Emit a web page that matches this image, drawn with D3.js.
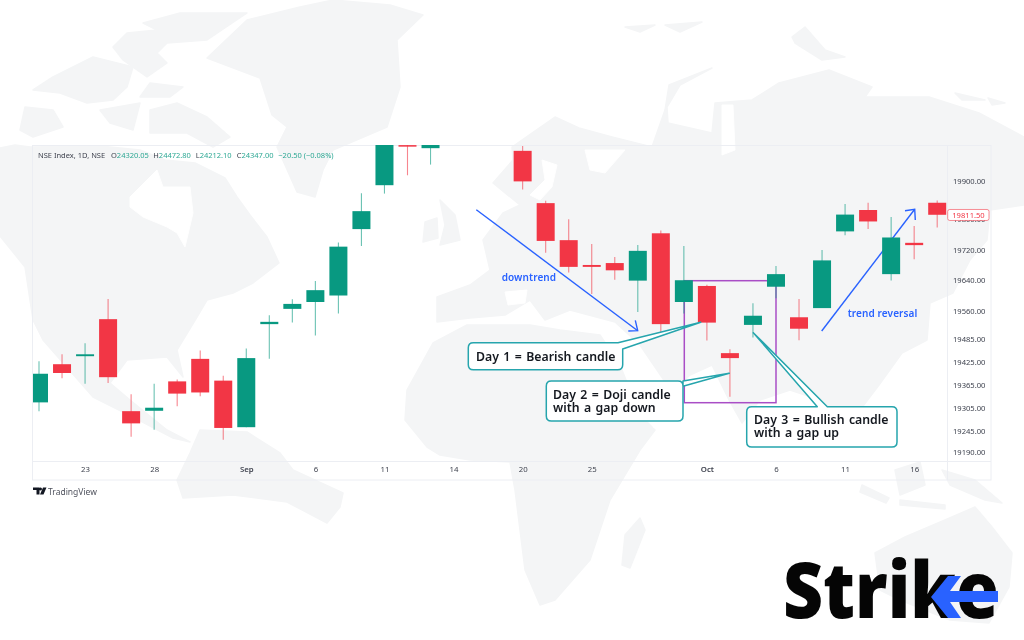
<!DOCTYPE html>
<html>
<head>
<meta charset="utf-8">
<script src="https://cdn.jsdelivr.net/npm/d3@7/dist/d3.min.js"></script>
<style>
html,body{margin:0;padding:0;background:#fff}
svg{display:block;filter:blur(.3px)}
text{font-family:"Noto Sans",sans-serif}
</style>
</head>
<body>
<svg id="c" width="1024" height="640"></svg>
<script>
// ---------- chart data (NSE Index, daily, 2023) ----------
const dates = ["08-21","08-22","08-23","08-24","08-25","08-28","08-29","08-30","08-31","09-01","09-04","09-05","09-06","09-07","09-08","09-11","09-12","09-13","09-14","09-15","09-18","09-20","09-21","09-22","09-25","09-26","09-27","09-28","09-29","10-03","10-04","10-05","10-06","10-09","10-10","10-11","10-12","10-13","10-16","10-17"];
const opens  = [19320,19420,19441,19538,19297,19298,19375,19434,19377,19255,19525,19565,19583,19600,19774,19889,19994,19986,null,null,null,19979,19842,19745,19680,19685,19639,19763,19583,19625,19449,19523,19623,19543,19567,19768,19824,19656,19738,19843];
const highs  = [19428,19446,19475,19591,19341,19369,19380,19456,19390,19461,19548,19590,19638,19739,19868,20010,20000,20010,null,null,null,19992,19848,19800,19735,19701,19732,19770,19730,19628,19459,19580,19677,19591,19719,19840,19843,19806,19782,19849];
const lows   = [19297,19383,19369,19371,19230,19248,19310,19336,19222,19255,19434,19529,19495,19553,19730,19867,19915,19943,null,null,null,19878,19712,19660,19604,19641,19557,19496,19553,19482,19335,19490,19593,19483,19567,19758,19774,19639,19695,19778];
const closes = [19395,19397,19446,19386,19265,19306,19343,19346,19253,19436,19531,19578,19614,19728,19821,20005,19990,19998,null,null,null,19899,19743,19675,19675,19666,19717,19525,19640,19529,19436,19547,19656,19513,19692,19812,19794,19752,19732,19811.5];
const priceTicks = [19900,19800,19720,19640,19560,19485,19425,19365,19305,19245,19190];
const dateTicks = ["08-23","08-28","09-01","09-06","09-11","09-14","09-20","09-25","10-03","10-06","10-11","10-16"];
const dateTickLabels = ["23","28","Sep","6","11","14","20","25","Oct","6","11","16"];
const lastPrice = 19811.5;
const legendValues = ["24320.05","24472.80","24212.10","24347.00"];
const legendKeys = ["O","H","L","C"];

const UP="#089981", DOWN="#f23645", BLUE="#2962ff", TEAL="#26a5ad", PURPLE="#a94ec6", LAND="#f4f5f6", GRID="#eceef3", INK="#3f434f";
const svg=d3.select("#c");
svg.append("rect").attr("width",1024).attr("height",640).attr("fill","#fff");

// ---------- background world map (decorative) ----------
const land=[
 // north america
 [[0,148],[15,145],[30,147],[100,146],[140,150],[165,160],[195,163],[225,178],[237,197],[250,215],[267,237],[279,263],[253,283],[233,293],[207,300],[197,317],[177,350],[183,377],[167,357],[127,360],[110,383],[130,400],[167,430],[190,442],[173,438],[133,417],[93,397],[43,340],[33,320],[25,267],[0,236]],
 // south america
 [[200,430],[247,432],[280,453],[293,470],[343,493],[340,507],[327,523],[287,502],[233,495],[183,498],[177,480],[190,453]],
 // greenland
 [[333,0],[390,5],[423,15],[397,40],[400,87],[387,127],[333,150],[323,170],[315,197],[297,192],[277,147],[287,127],[272,115],[260,78],[207,58],[247,20],[300,7]],
 // arctic islands
 [[127,33],[157,30],[143,23],[180,13],[247,13],[207,40],[167,43],[157,53],[167,63],[147,77],[123,60],[113,47]],
 [[33,90],[53,77],[93,57],[133,67],[127,87],[113,100],[87,103],[60,93]],
 [[150,83],[183,87],[170,97],[140,97]],
 [[25,107],[53,110],[63,127],[33,137],[20,130]],
 [[100,110],[140,103],[133,130],[110,123]],
 [[150,110],[177,103],[207,117],[230,137],[213,147],[187,133],[150,133]],
 // eurasia
 [[512,147],[532,133],[555,117],[579,128],[612,137],[652,147],[665,110],[669,85],[712,68],[680,85],[667,107],[668,123],[712,133],[715,103],[752,100],[779,83],[829,70],[872,87],[865,97],[929,97],[979,113],[1024,137],[1024,205],[990,210],[987,240],[970,260],[953,293],[930,303],[927,340],[902,353],[879,385],[860,410],[832,443],[820,400],[790,390],[760,400],[742,423],[729,400],[712,365],[690,375],[672,392],[640,345],[615,322],[570,310],[545,320],[530,300],[505,315],[470,318],[437,322],[437,297],[470,285],[490,270],[483,240],[503,213],[520,205],[493,183],[513,160]],
 // africa
 [[407,390],[405,420],[427,447],[440,455],[470,460],[510,462],[515,490],[520,530],[525,570],[540,605],[555,600],[590,560],[610,500],[640,450],[655,430],[640,415],[620,365],[600,335],[560,330],[530,325],[500,325],[467,325],[433,343]],
 // madagascar
 [[640,518],[645,530],[630,568],[622,565],[625,535]],
 // uk, ireland
 [[440,200],[455,215],[460,240],[440,245],[445,225]],
 [[425,222],[437,218],[438,238],[423,242]],
 // australia
 [[875,553],[905,537],[945,520],[975,507],[992,527],[1012,553],[1009,587],[989,623],[950,620],[900,600],[880,590]],
 // indonesia, new guinea
 [[862,485],[889,498],[886,503],[860,492]],
 [[895,470],[920,462],[925,485],[900,495]],
 [[942,470],[975,480],[1002,503],[985,500],[950,485]],
 [[900,500],[945,505],[945,509],[900,505]],
 // russian arctic
 [[625,27],[655,25],[640,32]],[[665,25],[702,22],[680,32]],
 [[792,37],[805,27],[825,50],[845,57],[822,60],[795,43]],
 [[955,93],[985,100],[962,100]],[[988,98],[1005,103],[992,105]]
];
const sea=[
 [[130,197],[157,170],[163,187],[190,187],[193,213],[185,247],[177,233],[167,227],[143,217],[130,207]],
 [[585,150],[625,150],[605,173],[590,170]],
 [[542,160],[557,165],[552,187],[540,200],[530,195],[545,180]],
 [[722,105],[733,105],[735,150],[722,155]],
 [[612,338],[618,338],[660,425],[654,428]],
 [[505,292],[527,290],[525,303],[508,305]]
];
const area=d3.line().curve(d3.curveLinearClosed);
const map=svg.append("g");
map.selectAll("path.l").data(land).join("path").attr("class","l").attr("d",area).attr("fill",LAND).attr("stroke",LAND).attr("stroke-width",1.5).attr("stroke-linejoin","round");
map.selectAll("path.s").data(sea).join("path").attr("class","s").attr("d",area).attr("fill","#fff").attr("stroke","#fff");

// ---------- scales ----------
const x=d3.scalePoint().domain(dates).range([39,937.2]);
const y=d3.scaleLinear().domain([19190,19900]).range([452,181]);
const bodyW=18;

// ---------- panel frame ----------
const frame=svg.append("g").attr("stroke",GRID).attr("stroke-width",1).attr("fill","none");
frame.append("rect").attr("x",32.5).attr("y",145.5).attr("width",958.5).attr("height",334.5);
frame.append("line").attr("x1",947.5).attr("x2",947.5).attr("y1",145.5).attr("y2",480);
frame.append("line").attr("x1",32.5).attr("x2",991).attr("y1",461.5).attr("y2",461.5);

// ---------- drawings under the candles ----------
svg.append("clipPath").attr("id","plot").append("rect").attr("x",33).attr("y",145).attr("width",914).attr("height",316);
const under=svg.append("g");
under.append("rect").attr("x",684.3).attr("y",280.7).attr("width",91.7).attr("height",122).attr("fill","none").attr("stroke",PURPLE).attr("stroke-width",1.5);
const arrows=[
 {line:[[476.3,209.7],[637.7,330.7]],head:[[635.3,320.3],[637.7,330.7],[628.3,331]]},
 {line:[[821.7,331],[914.7,209.3]],head:[[905,210.7],[914.7,209.3],[915.3,220]]}
];
const open=d3.line();
arrows.forEach(a=>{
 under.append("path").attr("d",open(a.line)).attr("stroke",BLUE).attr("stroke-width",1.4).attr("fill","none");
 under.append("path").attr("d",open(a.head)).attr("stroke",BLUE).attr("stroke-width",1.4).attr("fill","none");
});
under.append("text").attr("x",501.7).attr("y",281).attr("fill",BLUE).attr("font-size",10).attr("font-weight",600).attr("letter-spacing",0.1).text("downtrend");
under.append("text").attr("x",847.7).attr("y",317.3).attr("fill",BLUE).attr("font-size",10).attr("font-weight",600).attr("letter-spacing",0.1).text("trend reversal");

// ---------- candles ----------
const rows=dates.map((d,i)=>({d,o:opens[i],h:highs[i],l:lows[i],c:closes[i]})).filter(r=>r.o!==null);
const candles=svg.append("g").attr("clip-path","url(#plot)");
const col=r=>r.c>=r.o?UP:DOWN;
candles.selectAll("line").data(rows).join("line")
 .attr("x1",r=>x(r.d)).attr("x2",r=>x(r.d)).attr("y1",r=>y(r.h)).attr("y2",r=>y(r.l))
 .attr("stroke",col).attr("stroke-width",1.1).attr("stroke-opacity",0.6);
candles.selectAll("rect").data(rows).join("rect")
 .attr("x",r=>x(r.d)-bodyW/2).attr("width",bodyW)
 .attr("y",r=>y(Math.max(r.o,r.c))).attr("height",r=>Math.max(1.5,Math.abs(y(r.o)-y(r.c))))
 .attr("fill",col);

// ---------- axes ----------
const axisY=svg.append("g").attr("transform","translate(947.5,0)")
 .call(d3.axisRight(y).tickValues(priceTicks).tickSize(0).tickPadding(5.5).tickFormat(d3.format(".2f")));
axisY.select(".domain").remove();
axisY.selectAll("text").attr("font-size",7.6).attr("fill",INK).attr("font-family",'"Noto Sans",sans-serif');
const tickLabel=new Map(dateTicks.map((d,i)=>[d,dateTickLabels[i]]));
const axisX=svg.append("g").attr("transform","translate(0,466)")
 .call(d3.axisBottom(x).tickValues(dateTicks).tickSize(0).tickPadding(0).tickFormat(d=>tickLabel.get(d)));
axisX.select(".domain").remove();
axisX.selectAll("text").attr("font-size",7.8).attr("fill",INK).attr("font-family",'"Noto Sans",sans-serif')
 .attr("font-weight",d=>/^(Sep|Oct)$/.test(tickLabel.get(d))?600:400);

// last price tag
const tag=svg.append("g");
tag.append("rect").attr("x",947.7).attr("y",y(lastPrice)-5.3).attr("width",41.3).attr("height",11).attr("rx",2).attr("fill","#fff").attr("stroke",DOWN).attr("stroke-opacity",.7).attr("stroke-width",.8);
tag.append("text").attr("x",968.5).attr("y",y(lastPrice)+3.2).attr("text-anchor","middle").attr("font-size",7.6).attr("fill",DOWN).text(d3.format(".2f")(lastPrice));

// ---------- legend ----------
const legend=svg.append("g").attr("font-size",7.5);
legend.append("text").attr("x",38).attr("y",158).attr("fill",INK).text("NSE Index, 1D, NSE");
[111,153.3,195.7,236.7].forEach((px,i)=>{
 const t=legend.append("text").attr("x",px).attr("y",158);
 t.append("tspan").attr("fill",INK).text(legendKeys[i]);
 t.append("tspan").attr("fill",UP).attr("fill-opacity",.85).text(legendValues[i]);
});
legend.append("text").attr("x",278.3).attr("y",158).attr("fill",UP).attr("fill-opacity",.85).text("\u221220.50 (\u22120.08%)");

// ---------- callouts ----------
function callout(l,t,r,b,R,pointer,side){
 const p=d3.path();
 p.moveTo(l+R,t);
 if(side==="top"){p.lineTo(pointer[0][0],t);p.lineTo(pointer[1][0],pointer[1][1]);p.lineTo(pointer[2][0],t);}
 p.lineTo(r-R,t);p.quadraticCurveTo(r,t,r,t+R);
 if(side==="right"){p.lineTo(r,pointer[0][1]);p.lineTo(pointer[1][0],pointer[1][1]);p.lineTo(r,pointer[2][1]);}
 p.lineTo(r,b-R);p.quadraticCurveTo(r,b,r-R,b);p.lineTo(l+R,b);p.quadraticCurveTo(l,b,l,b-R);p.lineTo(l,t+R);p.quadraticCurveTo(l,t,l+R,t);p.closePath();
 return p.toString();
}
const notes=[
 {box:[468.3,342.7,622.7,369.7],ptr:[[618,342.7],[700.7,322.3],[622.7,349]],side:"mixed",tx:476,ty:[360.5],lines:["Day 1 = Bearish candle"]},
 {box:[546.3,381,683,421],ptr:[[683,381],[729.3,373.3],[683,386.3]],side:"right",tx:553,ty:[399,412],lines:["Day 2 = Doji candle","with a gap down"]},
 {box:[746.7,406.7,897,447],ptr:[[817.3,406.7],[753.3,332.7],[827.3,406.7]],side:"top",tx:754,ty:[424.3,437.3],lines:["Day 3 = Bullish candle","with a gap up"]}
];
const notesG=svg.append("g");
notes.forEach(n=>{
 const [l,t,r,b]=n.box;
 let d;
 if(n.side==="mixed"){
  const R=5,p=d3.path();
  p.moveTo(l+R,t);p.lineTo(n.ptr[0][0],t);p.lineTo(n.ptr[1][0],n.ptr[1][1]);p.lineTo(r,n.ptr[2][1]);
  p.lineTo(r,b-R);p.quadraticCurveTo(r,b,r-R,b);p.lineTo(l+R,b);p.quadraticCurveTo(l,b,l,b-R);p.lineTo(l,t+R);p.quadraticCurveTo(l,t,l+R,t);p.closePath();
  d=p.toString();
 } else d=callout(l,t,r,b,5,n.ptr,n.side);
 notesG.append("path").attr("d",d).attr("fill","#fff").attr("stroke",TEAL).attr("stroke-width",1.5).attr("stroke-linejoin","round");
 n.lines.forEach((s,i)=>notesG.append("text").attr("x",n.tx).attr("y",n.ty[i]).attr("fill","#14181f").attr("font-size",12.3).attr("font-weight",600).attr("word-spacing",1.2).text(s));
});

// ---------- TradingView mark ----------
const tv=svg.append("g");
tv.append("path").attr("d","M33,487.5H39.5V494.5H36.5V490H33Z M40.5,487.5A1.5,1.5 0 1 1 40.49,487.5Z M43,487.5H46.5L43.5,494.5H40Z").attr("fill","#131722");
tv.append("text").attr("x",48).attr("y",495).attr("font-size",8.5).attr("fill","#50535e").text("TradingView");

// ---------- Strike logo ----------
svg.append("text").attr("x",783).attr("y",618).attr("font-family","Inter,sans-serif").attr("font-size",78).attr("font-weight",900).attr("fill","#050505").attr("textLength",216).attr("lengthAdjust","spacingAndGlyphs").text("Strike");
svg.append("path").attr("d",area([[948,576],[961,576],[950,591],[998,591],[998,602],[950,602],[961,618],[948,618],[931,597]])).attr("fill",BLUE);
</script>
</body>
</html>
